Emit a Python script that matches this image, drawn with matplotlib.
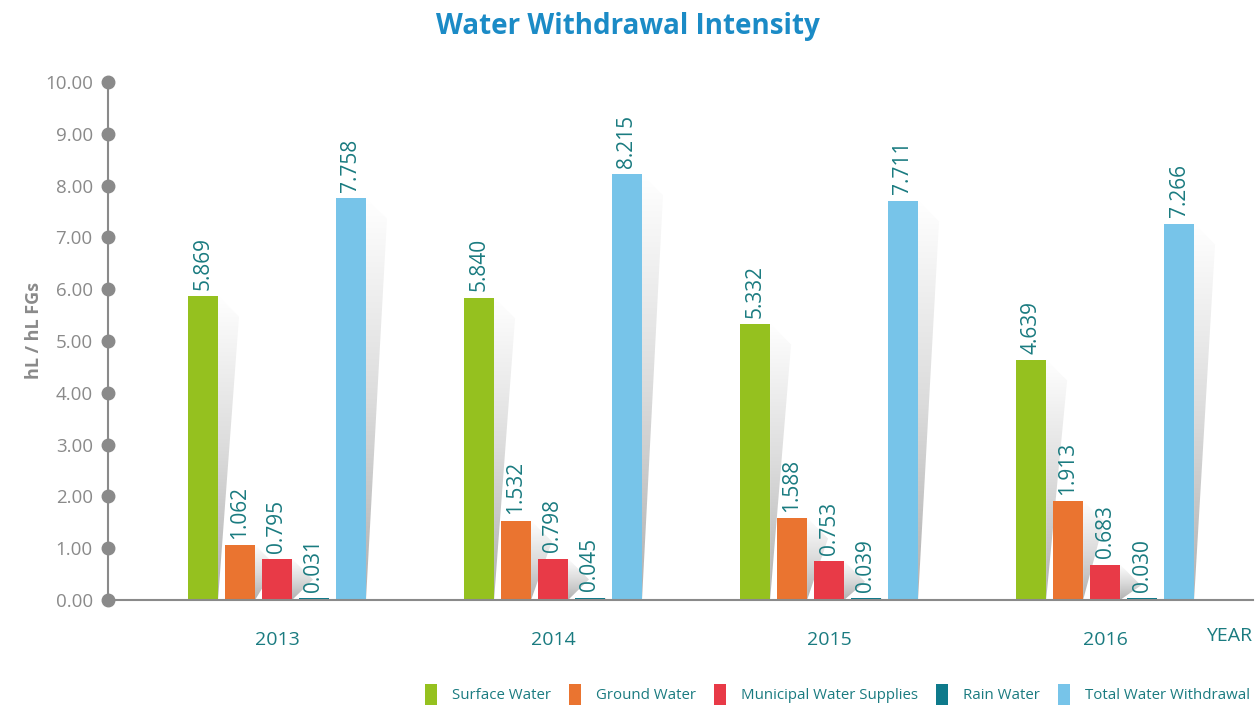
import numpy as np
import matplotlib
matplotlib.use("Agg")
import matplotlib.pyplot as plt
from matplotlib.patches import Patch, Polygon

# Data
years = ["2013", "2014", "2015", "2016"]
series = ["Surface Water", "Ground Water", "Municipal Water Supplies", "Rain Water", "Total Water Withdrawal"]
surface = [5.869, 5.840, 5.332, 4.639]
ground = [1.062, 1.532, 1.588, 1.913]
municipal = [0.795, 0.798, 0.753, 0.683]
rain = [0.031, 0.045, 0.039, 0.030]
total = [7.758, 8.215, 7.711, 7.266]
yticks = [0, 1, 2, 3, 4, 5, 6, 7, 8, 9, 10]

colors = ["#95c11f", "#ea7430", "#e83a47", "#0e7a8b", "#77c4e9"]
label_color = "#1a7b80"
grey = "#8a8a8a"

plt.rcParams['font.family'] = ['Open Sans', 'DejaVu Sans']

fig = plt.figure(figsize=(12.56, 7.07), dpi=100)
ax = fig.add_axes([0.086, 0.1513, 0.9116, 0.7327])

values = [surface, ground, municipal, rain, total]
x = np.arange(len(years))
stride = 0.134
width = 0.109
offsets = [(i - 2) * stride for i in range(5)]

# vertical gradient used for the bar shadows
grad = np.linspace(0, 1, 256).reshape(-1, 1)
shadow_cmap = matplotlib.colors.LinearSegmentedColormap.from_list(
    "sh", ["#b0b0b0", "#dcdcdc", "#ffffff"])

for i, vals in enumerate(values):
    xs = x + offsets[i]
    for xc, v in zip(xs, vals):
        xr = xc + width / 2
        poly = Polygon([(xr, 0), (xr, v), (xr + 0.076, v - 0.4)], closed=True,
                       facecolor="none", edgecolor="none")
        ax.add_patch(poly)
        im = ax.imshow(grad, cmap=shadow_cmap, extent=[xr, xr + 0.08, 0, v],
                       origin="lower", aspect="auto", zorder=1)
        im.set_clip_path(poly)
    ax.bar(xs, vals, width=width, color=colors[i], zorder=2)
    for xc, v in zip(xs, vals):
        ax.text(xc, v + 0.12, f"{v:.3f}", rotation=90, ha="center", va="bottom",
                color=label_color, fontsize=15, clip_on=False)

ax.set_xlim(-0.612, 3.536)
ax.set_ylim(0, 10)

for s in ["top", "right"]:
    ax.spines[s].set_visible(False)
ax.spines["left"].set_color(grey)
ax.spines["bottom"].set_color(grey)
ax.spines["left"].set_linewidth(1.5)
ax.spines["bottom"].set_linewidth(1.5)

ax.set_yticks(yticks)
ax.set_yticklabels([f"{t:.2f}" for t in yticks])
ax.tick_params(axis="y", length=0, pad=11, labelsize=13.5, labelcolor=grey)
ax.plot([-0.612] * len(yticks), yticks, "o", color=grey, markersize=9,
        clip_on=False, zorder=5)

ax.set_xticks(x)
ax.set_xticklabels(years)
ax.tick_params(axis="x", length=0, pad=22, labelsize=14, labelcolor=label_color)

ax.set_ylabel("hL / hL FGs", fontsize=13, fontweight="bold", color=grey)
ax.yaxis.set_label_coords(-0.057, 0.52)

fig.text(0.997, 0.101, "YEAR", ha="right", va="center", fontsize=14, color=label_color)

fig.text(0.5, 0.962, "Water Withdrawal Intensity", ha="center", va="center",
         fontsize=20, fontweight="bold", color="#1b8bc6")

handles = [Patch(facecolor=c, edgecolor="none") for c in colors]
leg = fig.legend(handles, series, loc="center right", bbox_to_anchor=(1.006, 0.018), ncol=5,
                 frameon=False, fontsize=10.8, handlelength=0.8, handleheight=1.8,
                 handletextpad=1.0, columnspacing=1.2)
for t in leg.get_texts():
    t.set_color(label_color)

fig.savefig("out.png", dpi=100)
